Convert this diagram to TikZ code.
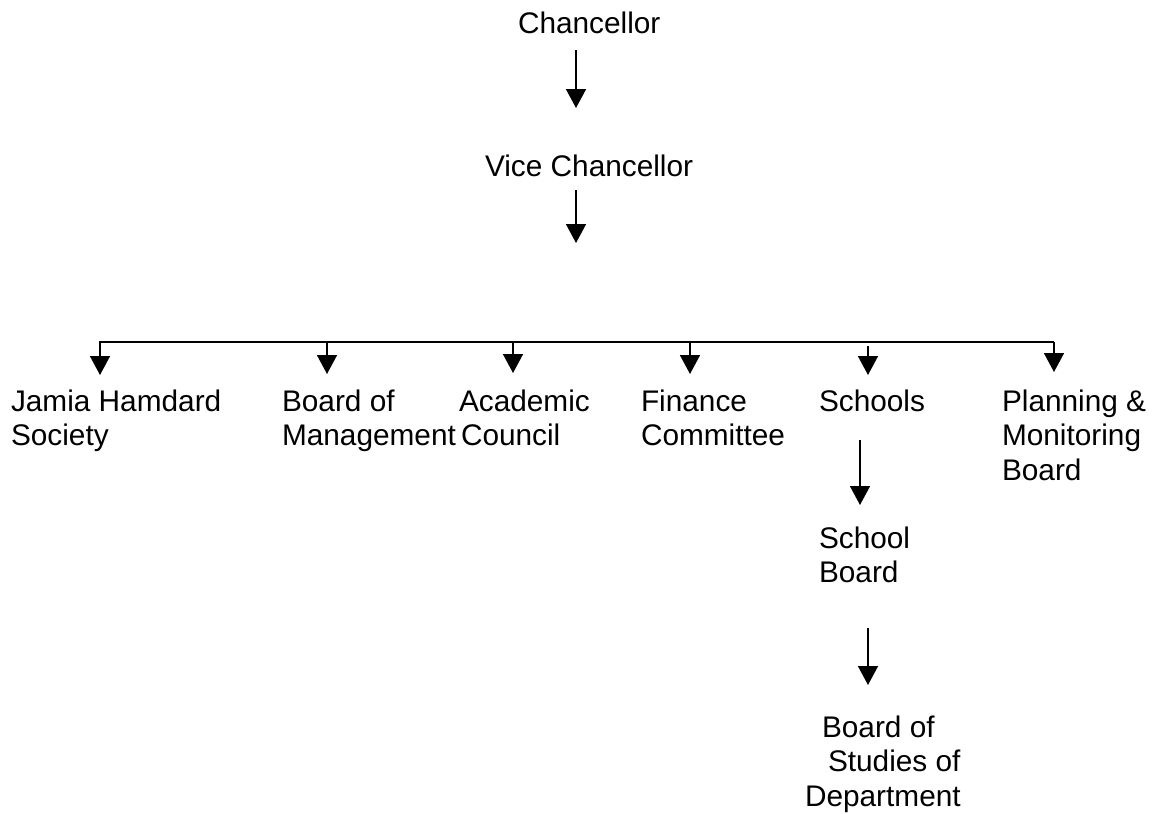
\documentclass[tikz,border=0pt]{standalone}
\usepackage{fontspec}
\setmainfont{Liberation Sans}
\usetikzlibrary{arrows.meta}
\newcommand{\mlines}[1]{\vtop{\baselineskip=34.5pt #1}}
\tikzset{
  lbl/.style={anchor=base west, inner sep=0pt, outer sep=0pt, font=\fontsize{29.8}{34.5}\selectfont},
  arr/.style={line width=1.6pt, -{Triangle[width=20pt,length=19pt]}},
  bar/.style={line width=1.6pt}
}
\begin{document}
\begin{tikzpicture}[x=1pt,y=-1pt]
\useasboundingbox (0,0) rectangle (1157,814);
% labels
\node[lbl] (chan) at (518,33) {Chancellor};
\node[lbl] (vc) at (485,176) {Vice Chancellor};
\node[lbl] (jhs) at (11,411) {\mlines{\hbox{Jamia Hamdard}\hbox{Society}}};
\node[lbl] (bom) at (282,411) {\mlines{\hbox{Board of}\hbox{Management}}};
\node[lbl] (ac) at (459,411) {\mlines{\hbox{Academic}\hbox{\hspace{2pt}Council}}};
\node[lbl] (fc) at (641,411) {\mlines{\hbox{Finance}\hbox{Committee}}};
\node[lbl] (sch) at (819,411) {Schools};
\node[lbl] (pmb) at (1002,411) {\mlines{\hbox{Planning \&}\hbox{Monitoring}\hbox{Board}}};
\node[lbl] (sb) at (819,548) {\mlines{\hbox{School}\hbox{Board}}};
\node[lbl] (bsd) at (805,737) {\mlines{\hbox{\hspace{17pt}Board of}\hbox{\hspace{23pt}Studies of}\hbox{Department}}};
% coordinates for connector ends
\coordinate (c1s) at (576,50);
\coordinate (c1e) at (576,108);
\coordinate (c2s) at (576,190);
\coordinate (c2e) at (576,243);
\coordinate (hl) at (99,342);
\coordinate (hr) at (1054,342);
\coordinate (d1s) at (100,342);  \coordinate (d1e) at (100,375);
\coordinate (d2s) at (327,342);  \coordinate (d2e) at (327,374);
\coordinate (d3s) at (513,342);  \coordinate (d3e) at (513,373);
\coordinate (d4s) at (690,342);  \coordinate (d4e) at (690,374);
\coordinate (d5s) at (868,346);  \coordinate (d5e) at (868,375);
\coordinate (d6s) at (1054,342); \coordinate (d6e) at (1054,372);
\coordinate (s1s) at (860,440);
\coordinate (s1e) at (860,505);
\coordinate (s2s) at (868,628);
\coordinate (s2e) at (868,685);
% connectors
\draw[arr] (c1s) -- (c1e);
\draw[arr] (c2s) -- (c2e);
\draw[bar] (hl) -- (hr);
\draw[arr] (d1s) -- (d1e);
\draw[arr] (d2s) -- (d2e);
\draw[arr] (d3s) -- (d3e);
\draw[arr] (d4s) -- (d4e);
\draw[arr] (d5s) -- (d5e);
\draw[arr] (d6s) -- (d6e);
\draw[arr] (s1s) -- (s1e);
\draw[arr] (s2s) -- (s2e);
\end{tikzpicture}
\end{document}
